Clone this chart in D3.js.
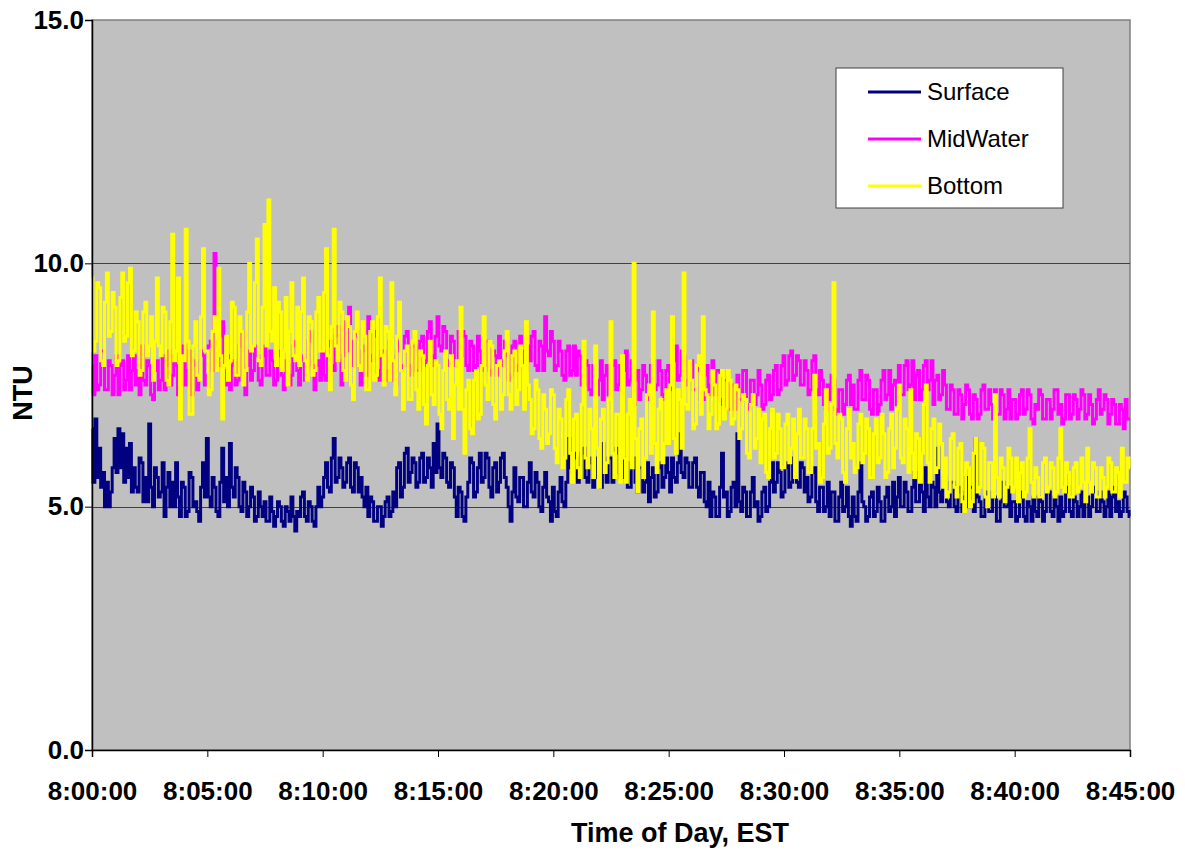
<!DOCTYPE html>
<html>
<head>
<meta charset="utf-8">
<script src="https://cdn.jsdelivr.net/npm/d3@7"></script>
<style>
  body { margin: 0; background: #fff; }
  text { font-family: "Liberation Sans", Arial, sans-serif; }
</style>
</head>
<body>
<div id="chart"></div>
<script>
// one reading every 5 s from 8:00:00 to 8:45:00, one row per minute
const surface = [
  6.6, 5.5, 6.8, 5.6, 6.2, 5.4, 5.7, 5.0, 5.5, 5.0, 5.3, 5.8,
  6.4, 5.7, 6.6, 5.8, 6.5, 5.5, 6.2, 5.6, 6.3, 5.3, 5.8, 5.4,
  5.3, 6.0, 5.9, 5.1, 5.6, 5.1, 6.7, 5.4, 5.0, 5.8, 5.6, 5.2,
  5.3, 5.9, 4.8, 5.4, 5.7, 5.0, 5.5, 5.0, 5.9, 5.2, 4.8, 5.5,
  5.4, 4.8, 4.9, 5.7, 5.6, 5.0, 5.1, 4.9, 4.7, 5.4, 5.9, 5.2,
  6.4, 5.2, 5.0, 5.6, 5.4, 4.9, 4.8, 5.5, 6.2, 5.1, 5.6, 5.0,
  6.3, 5.4, 5.2, 5.8, 5.6, 5.0, 4.9, 5.5, 5.3, 4.8, 5.0, 5.4,
  5.2, 4.7, 4.8, 5.3, 5.0, 4.8, 5.1, 4.7, 4.7, 5.2, 4.9, 4.6,
  4.8, 5.1, 5.0, 4.7, 4.6, 5.0, 4.9, 4.7, 5.2, 4.8, 4.5, 4.9,
  4.8, 5.2, 5.3, 4.8, 4.7, 5.1, 5.0, 4.7, 4.6, 5.0, 5.4, 5.0,
  5.2, 5.6, 5.9, 5.4, 5.3, 6.0, 6.4, 5.5, 5.6, 6.0, 5.8, 5.4,
  5.5, 5.9, 6.0, 5.4, 5.3, 5.9, 5.8, 5.3, 5.6, 5.2, 5.0, 5.4,
  4.8, 5.2, 5.1, 4.7, 4.7, 5.0, 5.0, 4.6, 4.8, 5.1, 5.2, 4.8,
  4.9, 5.3, 5.0, 5.8, 5.9, 5.2, 5.4, 6.1, 6.2, 5.5, 5.7, 6.0,
  5.9, 5.4, 5.5, 6.0, 6.1, 5.5, 5.6, 6.0, 5.8, 5.4, 6.3, 5.7,
  6.7, 5.8, 5.6, 6.1, 6.0, 5.5, 5.4, 5.9, 5.8, 5.2, 4.8, 5.4,
  5.3, 4.8, 4.7, 5.2, 5.5, 6.0, 5.9, 5.2, 5.3, 5.8, 6.1, 5.5,
  5.6, 6.1, 6.0, 5.4, 5.2, 5.8, 5.9, 5.3, 5.5, 6.0, 6.1, 5.6,
  5.4, 5.0, 4.7, 5.3, 5.8, 5.2, 5.1, 5.6, 5.6, 5.0, 5.0, 5.5,
  5.9, 5.3, 5.2, 5.7, 5.5, 5.0, 4.9, 5.4, 5.7, 5.2, 5.1, 4.7,
  5.4, 4.9, 4.8, 5.3, 5.6, 5.1, 5.0, 5.5, 6.4, 5.8, 5.7, 6.1,
  6.0, 5.5, 5.6, 6.1, 6.2, 5.6, 5.5, 6.0, 5.9, 5.4, 5.6, 6.0,
  5.8, 5.4, 6.3, 5.7, 5.5, 6.0, 6.0, 5.5, 5.7, 6.2, 6.1, 5.6,
  5.6, 6.0, 5.9, 5.4, 5.4, 5.9, 6.0, 5.5, 5.3, 5.8, 5.8, 5.3,
  5.5, 5.9, 5.1, 5.6, 5.8, 5.2, 5.3, 5.8, 5.9, 5.4, 5.6, 6.0,
  5.7, 5.3, 6.0, 5.6, 5.5, 5.9, 6.5, 5.7, 5.6, 6.0, 5.9, 5.4,
  5.4, 5.9, 6.0, 5.4, 5.2, 5.7, 5.7, 5.1, 5.0, 5.5, 4.8, 5.3,
  5.2, 4.8, 4.8, 5.4, 6.1, 5.2, 5.3, 4.8, 4.9, 5.4, 5.5, 5.0,
  6.5, 5.1, 4.9, 5.4, 5.3, 4.8, 4.8, 5.3, 5.6, 5.0, 5.1, 4.7,
  4.8, 5.3, 5.4, 4.9, 5.0, 5.5, 5.9, 5.3, 5.5, 5.9, 5.7, 5.2,
  5.3, 5.8, 5.9, 5.4, 5.5, 6.0, 6.1, 5.5, 5.4, 5.9, 5.8, 5.3,
  5.6, 5.1, 5.2, 5.7, 5.8, 5.1, 4.9, 5.4, 5.4, 4.9, 5.0, 5.5,
  4.8, 5.3, 5.3, 4.7, 4.7, 5.2, 5.5, 4.9, 5.0, 5.4, 4.8, 4.6,
  5.2, 4.8, 4.7, 5.3, 5.9, 5.1, 5.0, 4.7, 4.8, 5.2, 5.3, 4.8,
  4.9, 5.4, 5.1, 4.7, 4.7, 5.2, 5.4, 4.9, 5.0, 5.5, 4.8, 5.2,
  5.6, 5.0, 5.0, 5.5, 5.3, 4.9, 4.9, 5.4, 5.7, 5.1, 5.1, 5.6,
  5.3, 4.9, 5.8, 5.2, 5.0, 5.5, 5.4, 5.0, 6.2, 5.3, 5.1, 5.6,
  5.6, 5.1, 5.0, 5.5, 5.5, 5.0, 4.9, 5.4, 5.3, 4.9, 5.2, 5.6,
  5.0, 5.4, 5.4, 4.9, 6.4, 5.2, 5.1, 4.8, 4.8, 5.2, 5.3, 4.9,
  4.9, 5.3, 5.2, 4.7, 4.7, 5.1, 5.5, 5.0, 5.0, 5.4, 4.8, 5.1,
  5.1, 4.7, 4.8, 5.2, 5.3, 4.8, 4.7, 5.1, 5.0, 4.7, 5.2, 4.9,
  4.8, 5.2, 5.1, 4.7, 4.9, 5.3, 5.3, 4.9, 4.8, 5.2, 5.0, 4.7,
  5.2, 4.8, 4.9, 5.3, 5.4, 4.9, 4.8, 5.2, 5.1, 4.8, 5.0, 5.3,
  4.8, 5.2, 5.2, 4.8, 5.0, 5.4, 5.3, 4.9, 4.9, 5.3, 5.1, 4.8,
  5.0, 5.3, 4.8, 5.2, 5.4, 4.9, 5.1, 4.8, 4.9, 5.3, 5.2, 4.9,
  4.8
];

const midWater = [
  7.9, 7.3, 8.1, 7.4, 7.5, 8.2, 8.2, 7.4, 7.4, 8.0, 7.9, 7.3,
  7.7, 8.1, 7.3, 7.9, 8.0, 7.4, 7.6, 8.1, 7.4, 7.8, 8.1, 7.5,
  7.8, 7.3, 8.3, 7.6, 7.5, 8.0, 7.9, 7.3, 7.2, 7.8, 8.0, 7.4,
  7.6, 8.1, 7.4, 7.9, 8.2, 7.5, 7.7, 8.1, 7.9, 7.3, 7.5, 8.0,
  8.3, 7.5, 7.8, 8.2, 7.3, 7.9, 8.0, 7.4, 7.6, 8.2, 8.1, 7.5,
  7.7, 8.3, 8.4, 7.8, 10.2, 7.9, 7.9, 8.5, 8.8, 7.8, 7.5, 8.1,
  7.4, 7.9, 8.0, 7.5, 7.6, 8.3, 8.6, 7.7, 7.3, 7.9, 8.2, 7.6,
  7.8, 8.3, 8.1, 7.6, 7.5, 8.1, 8.3, 7.7, 7.7, 8.2, 8.0, 7.5,
  7.6, 8.1, 8.2, 7.7, 7.4, 8.0, 7.9, 7.5, 7.7, 8.3, 8.4, 7.8,
  7.5, 8.0, 8.1, 7.6, 7.8, 8.4, 8.6, 7.9, 7.4, 7.9, 8.0, 7.6,
  8.2, 7.7, 7.6, 8.3, 8.4, 7.9, 7.8, 8.5, 8.7, 8.0, 7.5, 8.1,
  8.8, 8.2, 9.1, 8.4, 7.9, 8.5, 8.6, 7.9, 7.5, 8.2, 8.3, 7.7,
  8.9, 8.1, 8.0, 8.6, 8.5, 7.8, 7.6, 8.2, 8.2, 7.6, 7.8, 8.4,
  8.1, 7.6, 7.5, 8.2, 8.4, 7.8, 7.9, 8.5, 8.6, 7.9, 7.7, 8.3,
  8.3, 7.8, 7.8, 8.4, 8.5, 7.9, 8.0, 8.6, 8.8, 8.1, 7.9, 8.5,
  8.9, 8.3, 8.2, 8.7, 8.6, 8.0, 7.9, 8.5, 8.4, 7.9, 8.0, 8.6,
  8.1, 8.6, 8.5, 7.9, 7.8, 8.4, 8.3, 7.8, 7.9, 8.5, 8.2, 7.8,
  7.9, 8.4, 8.4, 7.8, 7.7, 8.2, 8.1, 7.7, 8.5, 8.0, 7.9, 8.4,
  8.1, 7.6, 7.7, 8.3, 8.4, 7.8, 7.9, 8.5, 8.2, 7.7, 7.8, 8.3,
  8.0, 8.5, 8.6, 7.9, 7.8, 8.4, 8.3, 7.8, 8.9, 8.2, 8.1, 8.6,
  8.4, 7.8, 7.9, 8.4, 8.2, 7.7, 7.6, 8.2, 8.3, 7.7, 7.8, 8.3,
  7.7, 8.2, 8.1, 7.5, 7.5, 8.0, 7.9, 7.4, 7.3, 7.9, 7.8, 7.3,
  7.6, 8.0, 7.2, 7.7, 7.9, 7.3, 7.4, 7.9, 8.0, 7.4, 7.5, 7.9,
  7.3, 7.8, 8.2, 7.5, 7.6, 8.0, 7.1, 7.6, 7.8, 7.2, 7.4, 7.9,
  7.7, 7.2, 7.3, 7.9, 8.0, 7.4, 7.5, 8.0, 7.8, 7.3, 7.2, 7.8,
  7.9, 7.4, 7.5, 8.0, 8.3, 7.6, 7.7, 8.2, 8.1, 7.5, 7.6, 8.0,
  8.0, 7.4, 7.4, 7.9, 7.8, 7.2, 7.2, 7.7, 7.9, 7.3, 7.5, 8.0,
  7.3, 7.8, 7.8, 7.2, 7.1, 7.6, 7.6, 7.0, 7.0, 7.5, 7.5, 7.0,
  7.7, 7.2, 7.2, 7.8, 7.8, 7.1, 7.0, 7.6, 7.6, 7.1, 7.3, 7.8,
  7.5, 7.0, 7.1, 7.6, 7.7, 7.2, 7.3, 7.8, 7.9, 7.3, 7.4, 7.9,
  8.1, 7.5, 7.6, 8.1, 8.2, 7.6, 7.7, 8.1, 8.0, 7.5, 7.5, 8.0,
  7.8, 7.3, 7.4, 8.0, 8.1, 7.4, 7.3, 7.8, 7.6, 7.1, 7.0, 7.5,
  7.2, 7.7, 7.6, 7.0, 6.9, 7.4, 7.4, 6.9, 7.1, 7.6, 7.7, 7.1,
  7.5, 7.0, 7.0, 7.6, 7.8, 7.2, 7.2, 7.7, 7.6, 7.0, 6.9, 7.4,
  7.4, 6.9, 7.1, 7.6, 7.8, 7.2, 7.3, 7.8, 7.0, 7.5, 7.6, 7.1,
  7.9, 7.3, 7.3, 7.9, 8.0, 7.4, 7.5, 8.0, 7.2, 7.7, 7.8, 7.2,
  7.4, 7.9, 8.0, 7.4, 7.6, 8.0, 7.1, 7.6, 7.7, 7.2, 7.3, 7.8,
  7.5, 7.0, 7.0, 7.5, 7.4, 6.9, 6.9, 7.4, 7.3, 6.8, 7.1, 7.5,
  7.4, 6.9, 6.8, 7.3, 7.2, 6.8, 6.9, 7.4, 7.5, 7.0, 7.0, 7.4,
  7.1, 6.8, 7.4, 6.9, 6.9, 7.4, 7.3, 6.8, 7.0, 7.4, 6.8, 7.2,
  7.2, 6.8, 6.9, 7.3, 7.4, 6.9, 7.0, 7.4, 7.3, 6.8, 6.7, 7.1,
  7.0, 7.4, 7.3, 6.8, 6.8, 7.2, 7.2, 6.8, 7.0, 7.4, 7.4, 6.9,
  7.1, 6.7, 6.8, 7.3, 7.3, 6.8, 6.9, 7.3, 7.2, 6.8, 7.0, 7.4,
  7.3, 6.8, 6.9, 7.3, 7.1, 6.7, 6.8, 7.2, 7.4, 6.9, 7.0, 7.3,
  7.2, 6.7, 6.9, 7.2, 7.1, 6.7, 6.7, 7.1, 7.0, 6.6, 7.2, 6.8,
  6.8
];

const bottom = [
  9.7, 8.2, 8.4, 9.6, 9.5, 8.0, 7.9, 9.2, 9.8, 8.5, 8.6, 9.4,
  9.1, 7.9, 8.0, 9.3, 9.8, 8.4, 8.5, 9.6, 9.9, 8.1, 8.2, 9.0,
  8.8, 7.7, 7.8, 9.0, 9.2, 8.1, 8.3, 8.9, 7.6, 8.4, 9.7, 8.3,
  8.1, 9.1, 9.0, 7.6, 7.5, 8.8, 10.6, 8.0, 8.2, 9.7, 6.8, 8.1,
  8.0, 10.7, 8.4, 6.9, 6.9, 8.3, 8.8, 7.7, 7.6, 8.9, 10.3, 8.2,
  8.2, 7.3, 7.4, 8.6, 8.9, 7.8, 9.9, 8.1, 6.8, 7.9, 8.5, 7.6,
  8.0, 9.2, 9.1, 7.7, 7.7, 8.9, 8.6, 7.5, 7.8, 9.0, 10.0, 8.2,
  8.3, 9.6, 10.5, 8.0, 7.9, 9.1, 10.8, 8.3, 11.3, 8.6, 8.4, 9.5,
  7.9, 9.2, 9.0, 7.8, 8.2, 9.3, 7.5, 8.6, 9.6, 8.1, 8.0, 9.1,
  7.9, 9.0, 9.7, 8.0, 7.6, 8.9, 8.8, 7.7, 7.8, 9.0, 9.3, 8.2,
  8.2, 9.4, 10.3, 8.1, 7.4, 8.7, 10.7, 8.3, 8.0, 9.2, 9.0, 7.8,
  7.6, 8.9, 8.7, 7.5, 7.2, 8.6, 9.0, 7.9, 7.8, 8.8, 8.5, 7.4,
  7.4, 8.6, 8.8, 7.6, 7.7, 8.9, 9.7, 8.1, 7.5, 8.7, 8.6, 7.6,
  9.6, 8.0, 7.3, 8.5, 9.2, 7.8, 7.0, 8.2, 8.3, 7.2, 7.2, 8.4,
  8.6, 7.4, 7.0, 8.2, 8.1, 7.1, 6.7, 7.9, 8.4, 7.3, 7.1, 8.0,
  7.9, 6.9, 6.6, 7.8, 8.2, 7.2, 7.0, 8.1, 6.4, 7.5, 8.0, 7.0,
  9.1, 7.0, 6.1, 7.4, 7.6, 6.6, 6.5, 7.6, 7.8, 6.8, 6.9, 7.9,
  8.9, 7.5, 7.2, 8.4, 8.3, 7.1, 6.8, 7.9, 8.0, 7.0, 7.3, 8.2,
  8.6, 7.3, 7.0, 8.1, 8.2, 7.1, 7.4, 8.3, 7.9, 7.0, 8.8, 7.5,
  7.2, 6.5, 6.6, 7.6, 7.4, 6.4, 6.2, 7.3, 7.0, 6.3, 6.5, 7.4,
  7.3, 6.2, 5.9, 7.0, 6.8, 5.8, 6.0, 7.2, 7.4, 6.1, 5.5, 6.8,
  6.9, 5.8, 5.6, 7.1, 8.4, 6.0, 5.8, 7.0, 6.6, 5.6, 8.3, 6.2,
  5.4, 6.8, 7.0, 5.7, 5.9, 7.2, 8.8, 6.1, 5.6, 6.9, 6.9, 5.5,
  8.1, 6.0, 5.5, 6.9, 7.2, 5.8, 10.0, 6.4, 5.3, 6.6, 6.8, 5.6,
  6.0, 7.3, 7.5, 6.1, 9.0, 6.3, 5.7, 7.0, 7.2, 5.9, 6.3, 7.4,
  6.3, 7.5, 8.9, 6.4, 6.1, 7.4, 7.2, 6.2, 9.8, 7.1, 7.0, 8.0,
  7.6, 6.6, 6.7, 7.9, 8.1, 6.9, 8.9, 7.4, 7.3, 6.6, 6.9, 7.8,
  7.5, 6.6, 6.7, 7.7, 7.8, 6.8, 7.0, 7.8, 7.6, 6.7, 6.8, 7.5,
  7.4, 6.4, 6.6, 7.3, 7.2, 6.1, 6.0, 7.1, 7.3, 6.2, 6.4, 7.0,
  5.9, 6.8, 6.9, 5.7, 5.6, 6.6, 7.0, 6.0, 6.1, 6.9, 6.6, 5.8,
  5.8, 6.7, 6.9, 5.9, 6.2, 6.8, 5.6, 6.5, 7.0, 6.0, 6.0, 6.8,
  6.6, 5.7, 5.7, 6.6, 7.7, 6.2, 6.3, 5.5, 5.6, 6.7, 7.4, 6.1,
  6.2, 7.1, 9.6, 6.3, 6.0, 6.9, 6.8, 5.7, 5.5, 6.6, 7.0, 6.0,
  6.3, 5.7, 5.8, 6.7, 6.9, 5.9, 6.1, 6.8, 6.6, 5.6, 5.6, 6.5,
  6.8, 5.9, 6.0, 6.9, 6.5, 5.6, 5.7, 6.6, 6.9, 5.8, 6.2, 7.0,
  7.5, 6.0, 5.9, 6.8, 6.6, 5.7, 7.4, 6.1, 5.6, 6.5, 6.4, 5.5,
  6.1, 7.1, 7.5, 5.9, 5.5, 6.6, 6.8, 5.7, 5.8, 6.7, 6.3, 5.4,
  6.0, 5.2, 5.3, 6.4, 6.5, 5.4, 5.2, 6.2, 6.3, 5.1, 4.9, 5.9,
  5.8, 5.0, 5.1, 6.1, 6.4, 5.3, 5.4, 6.3, 6.2, 5.2, 5.0, 5.9,
  5.9, 5.2, 7.3, 5.6, 5.2, 6.0, 5.8, 5.1, 5.4, 6.2, 6.0, 5.3,
  5.4, 6.0, 5.1, 5.7, 5.9, 5.2, 5.3, 6.0, 6.6, 5.5, 5.2, 5.8,
  5.6, 5.2, 5.2, 5.9, 6.0, 5.3, 5.4, 5.9, 5.8, 5.2, 5.3, 6.0,
  6.6, 5.4, 5.3, 5.9, 5.7, 5.2, 5.2, 5.8, 5.9, 5.3, 5.4, 6.0,
  5.5, 5.1, 6.2, 5.5, 5.3, 5.9, 5.8, 5.2, 5.2, 5.8, 5.6, 5.2,
  5.4, 6.0, 5.9, 5.3, 5.3, 5.8, 5.7, 5.2, 6.2, 5.5, 5.5, 6.0,
  5.8
];

const stepSeconds = 5;
const timeTicks = [0, 300, 600, 900, 1200, 1500, 1800, 2100, 2400, 2700];
const timeLabels = ["8:00:00", "8:05:00", "8:10:00", "8:15:00", "8:20:00",
                    "8:25:00", "8:30:00", "8:35:00", "8:40:00", "8:45:00"];
const ntuTicks = [0, 5, 10, 15];
const seriesNames = ["Surface", "MidWater", "Bottom"];
const seriesColors = ["#000080", "#FF00FF", "#FFFF00"];

const width = 1185, height = 852;
const margin = {top: 20, right: 55, bottom: 102, left: 92};
const plotW = width - margin.left - margin.right;
const plotH = height - margin.top - margin.bottom;

const svg = d3.select("#chart").append("svg")
    .attr("width", width)
    .attr("height", height);

const g = svg.append("g")
    .attr("transform", `translate(${margin.left},${margin.top})`);

const x = d3.scaleLinear().domain([0, 2700]).range([0, plotW]);
const y = d3.scaleLinear().domain([0, 15]).range([plotH, 0]);

// plot area
g.append("rect")
    .attr("width", plotW)
    .attr("height", plotH)
    .attr("fill", "#C0C0C0")
    .attr("stroke", "#808080")
    .attr("stroke-width", 1.5);

// gridlines
g.selectAll(".grid")
    .data(ntuTicks.filter(d => d > 0 && d < 15))
    .enter()
    .append("line")
    .attr("x1", 0)
    .attr("x2", plotW)
    .attr("y1", d => Math.round(y(d)) + 0.5)
    .attr("y2", d => Math.round(y(d)) + 0.5)
    .attr("stroke", "#404040")
    .attr("stroke-width", 1);

// series, surface first so bottom ends up on top
// dense logger data reads as vertical strokes, so draw it as steps
const allSeries = [surface, midWater, bottom];
const line = d3.line()
    .x((d, i) => x(i * stepSeconds))
    .y(d => y(d))
    .curve(d3.curveStep);

allSeries.forEach((vals, k) => {
    g.append("path")
        .datum(vals)
        .attr("fill", "none")
        .attr("stroke", seriesColors[k])
        .attr("stroke-width", 3)
        .attr("d", line);
});

// axes
const xAxis = d3.axisBottom(x)
    .tickValues(timeTicks)
    .tickFormat((d, i) => timeLabels[i])
    .tickSize(7)
    .tickPadding(25);
const yAxis = d3.axisLeft(y)
    .tickValues(ntuTicks)
    .tickFormat(d3.format(".1f"))
    .tickSize(7)
    .tickPadding(1);

const gx = g.append("g")
    .attr("transform", `translate(0,${plotH})`)
    .call(xAxis);
const gy = g.append("g").call(yAxis);

[gx, gy].forEach(a => {
    a.select(".domain").attr("stroke", "#000").attr("stroke-width", 1.5);
    a.selectAll(".tick line").attr("stroke", "#000");
    a.selectAll(".tick text")
        .attr("fill", "#000")
        .style("font-size", "26px")
        .style("font-weight", "bold")
        .style("font-family", "'Liberation Sans', Arial, sans-serif");
});

// axis titles
svg.append("text")
    .attr("x", 680)
    .attr("y", 842)
    .attr("text-anchor", "middle")
    .style("font-size", "27px")
    .style("font-weight", "bold")
    .text("Time of Day, EST");

svg.append("text")
    .attr("transform", "translate(32,393) rotate(-90)")
    .attr("text-anchor", "middle")
    .style("font-size", "27px")
    .style("font-weight", "bold")
    .text("NTU");

// legend
const legend = svg.append("g").attr("transform", "translate(836,68)");
legend.append("rect")
    .attr("width", 227)
    .attr("height", 140)
    .attr("fill", "#fff")
    .attr("stroke", "#404040")
    .attr("stroke-width", 1);

const items = legend.selectAll(".item")
    .data(seriesNames)
    .enter()
    .append("g")
    .attr("transform", (d, i) => `translate(0,${24 + i * 47})`);
items.append("line")
    .attr("x1", 32).attr("x2", 85)
    .attr("stroke", (d, i) => seriesColors[i])
    .attr("stroke-width", 3);
items.append("text")
    .attr("x", 91)
    .attr("dy", "0.35em")
    .style("font-size", "24px")
    .text(d => d);
</script>
</body>
</html>
